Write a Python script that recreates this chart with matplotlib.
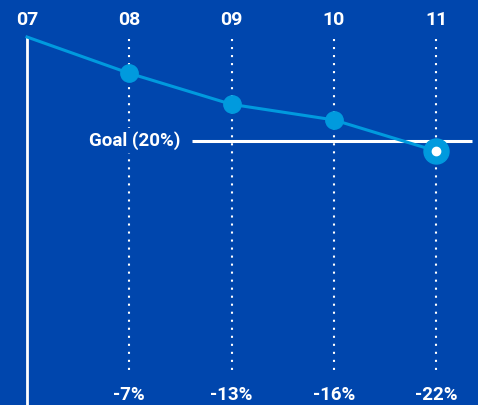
import numpy as np
import matplotlib
matplotlib.use("Agg")
import matplotlib.pyplot as plt

years = ["07", "08", "09", "10", "11"]
change = [0, -7, -13, -16, -22]
bottom_labels = ["", "-7%", "-13%", "-16%", "-22%"]
goal = -20
goal_label = "Goal (20%)"

bg = "#0046ad"
line_col = "#009ade"

plt.rcParams['font.family'] = ['Roboto', 'DejaVu Sans']

fig = plt.figure(figsize=(4.78, 4.05), dpi=100)
fig.patch.set_facecolor(bg)
ax = fig.add_axes([0, 0, 1, 1])
ax.set_facecolor(bg)
ax.set_axis_off()

# pixel -> data mapping: x step ~102 px, 5.18 px per percent
xstep = 102.25
ystep = 5.18
ax.set_xlim(-27 / xstep, (478 - 27) / xstep)
ax.set_ylim(-(405 - 37) / ystep, 37 / ystep)

x = np.arange(len(years))

# solid baseline for 07
ax.plot([0, 0], [0, -80], color="white", lw=2, solid_capstyle="butt", zorder=2)

# dotted guides
for i in x[1:]:
    ax.plot([i, i], [-0.4, -65], color="white", lw=1.5,
            dashes=(1, 2.85), zorder=1)

# goal line
ax.plot([(192 - 27) / xstep, (472 - 27) / xstep], [goal, goal],
        color="white", lw=2.2, solid_capstyle="butt", zorder=2)
ax.text((180 - 27) / xstep, goal, goal_label, color="white", fontsize=13.5,
        fontweight="bold", ha="right", va="center", zorder=3,
        bbox=dict(facecolor=bg, edgecolor="none", pad=2))

ax.plot(x, change, color=line_col, lw=2.2, zorder=3)
ax.plot(x[1:-1], change[1:-1], "o", color=line_col, ms=12.5, zorder=4)
ax.plot(x[-1], change[-1], "o", color=line_col, ms=18, zorder=4)
ax.plot(x[-1], change[-1], "o", color="white", ms=6, zorder=5)

for i, yr in enumerate(years):
    ax.text(i, (37 - 20) / ystep, yr, color="white", fontsize=14,
            fontweight="bold", ha="center", va="center")
    if bottom_labels[i]:
        ax.text(i, -(395 - 37) / ystep, bottom_labels[i], color="white",
                fontsize=13.5, fontweight="bold", ha="center", va="center")

fig.savefig("out.png", dpi=100, facecolor=bg)
